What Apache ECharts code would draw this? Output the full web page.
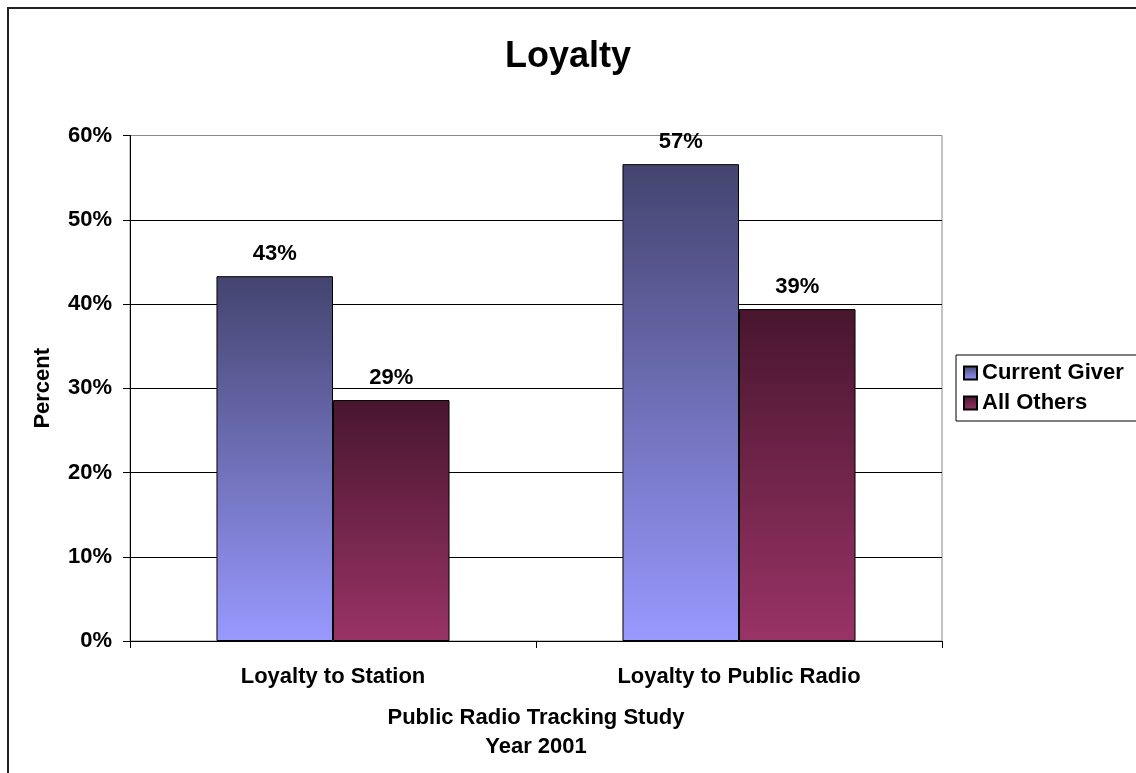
<!DOCTYPE html>
<html>
<head>
<meta charset="utf-8">
<script src="https://cdn.jsdelivr.net/npm/echarts@6/dist/echarts.min.js"></script>
<style>
  html, body { margin: 0; padding: 0; background: #fff; }
  #chart { width: 1136px; height: 773px; }
</style>
</head>
<body>
<div id="chart"></div>
<script>
// Loyalty measures from the Public Radio Tracking Study, 2001
const categories = ['Loyalty to Station', 'Loyalty to Public Radio'];
const currentGiver = [43.3, 56.6];
const allOthers = [28.6, 39.4];
const seriesNames = ['Current Giver', 'All Others'];
const yTicks = { min: 0, max: 60, interval: 10 };

const FONT = '"Liberation Sans", Arial, Helvetica, sans-serif';
const TXT = 22;

function grad(top, bottom) {
  return new echarts.graphic.LinearGradient(0, 0, 0, 1, [
    { offset: 0, color: top },
    { offset: 1, color: bottom }
  ]);
}

const labelStyle = {
  show: true,
  position: 'top',
  distance: 11,
  fontFamily: FONT,
  fontWeight: 'bold',
  fontSize: TXT,
  color: '#000',
  formatter: p => Math.round(p.value) + '%'
};

const chart = echarts.init(document.getElementById('chart'), null, { renderer: 'canvas' });

chart.setOption({
  backgroundColor: '#fff',
  animation: false,
  graphic: [{
    type: 'rect',
    shape: { x: 8, y: 8, width: 1200, height: 800 },
    style: { fill: 'none', stroke: '#222', lineWidth: 2 },
    silent: true
  }],
  title: {
    text: 'Loyalty',
    left: 'center',
    top: 34,
    textStyle: {
      fontFamily: FONT,
      fontWeight: 'bold',
      fontSize: 36,
      lineHeight: 36,
      color: '#000'
    }
  },
  legend: {
    orient: 'vertical',
    left: 956,
    top: 355,
    padding: [7, 40, 7, 7],
    itemGap: 8,
    itemWidth: 13,
    itemHeight: 13,
    icon: 'rect',
    borderColor: '#000',
    borderWidth: 1,
    backgroundColor: '#fff',
    textStyle: {
      fontFamily: FONT,
      fontWeight: 'bold',
      fontSize: TXT,
      lineHeight: 22,
      color: '#000'
    },
    data: seriesNames
  },
  grid: {
    left: 130,
    right: 194,
    top: 135.5,
    bottom: 132,
    show: true,
    borderColor: '#888',
    borderWidth: 1,
    backgroundColor: '#fff'
  },
  xAxis: {
    type: 'category',
    data: categories,
    name: 'Public Radio Tracking Study\nYear 2001',
    nameLocation: 'middle',
    nameGap: 62,
    nameTextStyle: {
      fontFamily: FONT,
      fontWeight: 'bold',
      fontSize: TXT,
      lineHeight: 29,
      color: '#000'
    },
    axisLine: { show: true, lineStyle: { color: '#000', width: 1 } },
    axisTick: { show: true, length: 7, lineStyle: { color: '#000' } },
    axisLabel: {
      margin: 25,
      fontFamily: FONT,
      fontWeight: 'bold',
      fontSize: TXT,
      color: '#000'
    },
    splitLine: { show: false }
  },
  yAxis: {
    type: 'value',
    min: yTicks.min,
    max: yTicks.max,
    interval: yTicks.interval,
    name: 'Percent',
    nameLocation: 'middle',
    nameGap: 76,
    nameTextStyle: {
      fontFamily: FONT,
      fontWeight: 'bold',
      fontSize: TXT,
      color: '#000'
    },
    axisLine: { show: true, lineStyle: { color: '#000', width: 1 } },
    axisTick: { show: true, length: 7, lineStyle: { color: '#000' } },
    axisLabel: {
      margin: 18,
      formatter: '{value}%',
      fontFamily: FONT,
      fontWeight: 'bold',
      fontSize: TXT,
      color: '#000'
    },
    splitLine: {
      show: true,
      lineStyle: { color: ['#000', '#000', '#000', '#000', '#000', '#000', '#888'], width: 1 }
    }
  },
  series: [
    {
      name: seriesNames[0],
      type: 'bar',
      data: currentGiver,
      barGap: '0%',
      barCategoryGap: '42.6%',
      itemStyle: {
        color: grad('#44446f', '#9999ff'),
        borderColor: '#000',
        borderWidth: 1
      },
      label: labelStyle
    },
    {
      name: seriesNames[1],
      type: 'bar',
      data: allOthers,
      barGap: '0%',
      barCategoryGap: '42.6%',
      itemStyle: {
        color: grad('#48162e', '#993366'),
        borderColor: '#000',
        borderWidth: 1
      },
      label: labelStyle
    }
  ]
});
</script>
</body>
</html>
